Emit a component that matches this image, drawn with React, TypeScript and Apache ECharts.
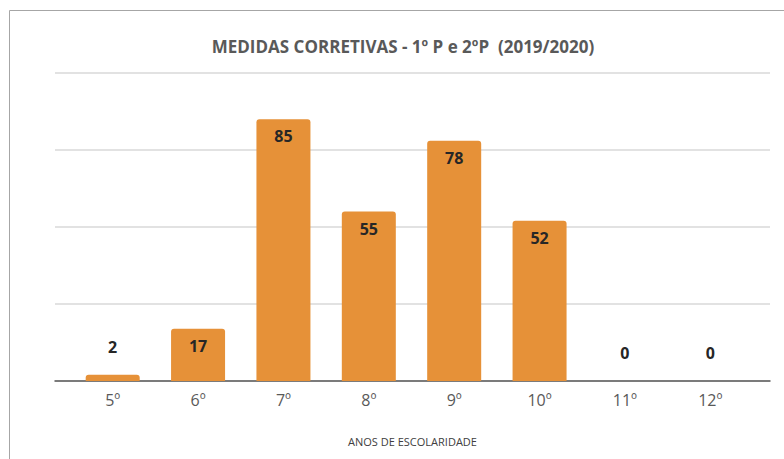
import React, { useEffect, useRef } from "react";
import * as echarts from "echarts";

const titleText = "MEDIDAS CORRETIVAS - 1º P e 2ºP  (2019/2020)";
const categories = ["5º", "6º", "7º", "8º", "9º", "10º", "11º", "12º"];
const values = [2, 17, 85, 55, 78, 52, 0, 0];
const axisName = "ANOS DE ESCOLARIDADE";

export default function App() {
  const ref = useRef<HTMLDivElement>(null);
  useEffect(() => {
    if (!ref.current) return;
    const chart = echarts.init(ref.current, null, { renderer: "svg" });
    const font = "'Open Sans', sans-serif";
    chart.setOption({
      animation: false,
      backgroundColor: "#ffffff",
      title: {
        text: titleText,
        left: 398,
        textAlign: "center",
        top: 33,
        textStyle: { fontFamily: font, fontSize: 17, fontWeight: "bold", color: "#595959" },
      },
      graphic: [
        {
          type: "rect",
          shape: { x: 9.5, y: 10.5, width: 800, height: 500 },
          style: { fill: "none", stroke: "#a6a6a6", lineWidth: 1 },
          silent: true,
        },
      ],
      grid: [
        { left: 55, right: 14, top: 73, bottom: 78 },
        { left: 70, right: 31, top: 73, bottom: 78 },
      ],
      xAxis: [
        {
          type: "value",
          gridIndex: 0,
          min: 0,
          max: 1,
          name: axisName,
          nameLocation: "middle",
          nameGap: 55,
          nameTextStyle: { fontFamily: font, fontSize: 11, color: "#404040" },
          axisLine: { show: true, lineStyle: { color: "#595959", width: 1.5 } },
          axisTick: { show: false },
          axisLabel: { show: false },
          splitLine: { show: false },
        },
        {
          type: "category",
          gridIndex: 1,
          data: categories,
          axisLine: { show: false },
          axisTick: { show: false },
          axisLabel: { fontFamily: font, fontSize: 16, color: "#595959", margin: 11 },
        },
      ],
      yAxis: [
        {
          type: "value",
          gridIndex: 0,
          min: 0,
          max: 100,
          interval: 25,
          axisLabel: { show: false },
          axisLine: { show: false },
          axisTick: { show: false },
          splitLine: { lineStyle: { color: "#d9d9d9", width: 1.5 } },
        },
        {
          type: "value",
          gridIndex: 1,
          min: 0,
          max: 100,
          interval: 25,
          axisLabel: { show: false },
          axisLine: { show: false },
          axisTick: { show: false },
          splitLine: { show: false },
        },
      ],
      series: [
        {
          type: "bar",
          xAxisIndex: 1,
          yAxisIndex: 1,
          barWidth: 54,
          data: values.map((v) => ({
            value: v,
            label:
              v < 10
                ? { position: "top", distance: 20 }
                : { position: "insideTop", distance: 9 },
          })),
          itemStyle: { color: "#E69138", borderRadius: [3, 3, 0, 0] },
          label: {
            show: true,
            fontFamily: font,
            fontSize: 16,
            fontWeight: "bold",
            color: "#262626",
          },
        },
      ],
    });
    return () => chart.dispose();
  }, []);
  return (
    <div
      ref={ref}
      style={{ position: "fixed", left: 0, top: 0, width: 784, height: 459 }}
    />
  );
}
